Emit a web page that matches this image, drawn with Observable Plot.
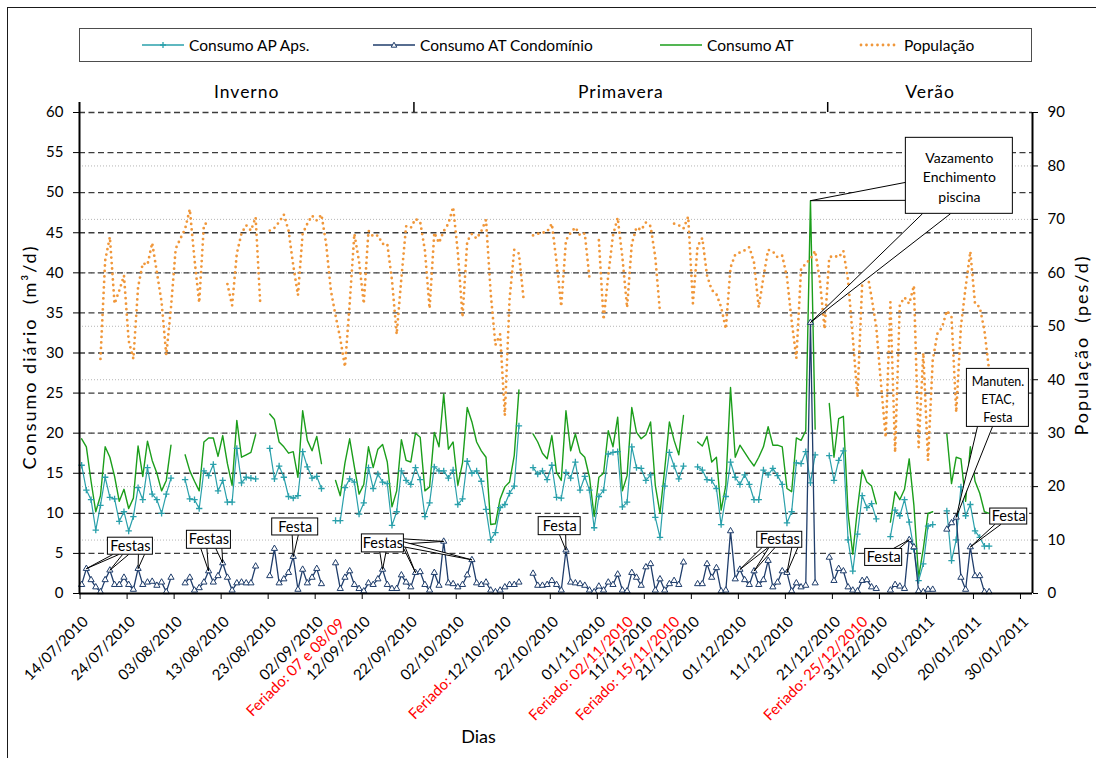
<!DOCTYPE html>
<html>
<head>
<meta charset="utf-8">
<script src="https://cdn.jsdelivr.net/npm/d3@7"></script>
<script src="https://cdn.jsdelivr.net/npm/@observablehq/plot@0.6"></script>
<style>
  body { margin: 0; background: #fff; }
  #wrap { position: relative; width: 1096px; height: 758px; overflow: hidden; font-family: Lato, sans-serif; color: #000; background: #fff; }
  #frame { position: absolute; left: 7px; top: 7px; width: 1200px; height: 900px; border-left: 1px solid #1a1a1a; border-top: 1px solid #1a1a1a; }
  #legend { position: absolute; left: 79px; top: 28px; width: 951px; height: 32px; border: 1px solid #4d4d4d; }
  #legend .item { position: absolute; top: 0; height: 32px; display: flex; align-items: center; font-size: 15.5px; white-space: nowrap; }
  #legend .item svg { margin-right: 5px; }
  #chart { position: absolute; left: 0; top: 64px; }
  g[aria-description="axis-title"] text { letter-spacing: 2px; }
  g[aria-description="season"] text { letter-spacing: 1px; }
</style>
</head>
<body>
<div id="wrap">
  <div id="frame"></div>
  <div id="legend"></div>
  <div id="chart"></div>
</div>
<script>
// Daily readings, one value per day starting 14/07/2010 (null = no reading)
const consumoApAps = [
  16.0,12.9,11.7,7.9,11.0,14.5,12.0,11.8,9.0,10.2,
  7.8,9.6,13.2,11.7,15.7,12.4,11.7,10.0,12.4,14.4,
  null,null,14.2,11.8,11.7,10.6,15.3,14.7,16.1,12.8,
  14.1,11.4,11.4,18.1,13.8,14.5,14.4,14.3,null,null,
  18.1,14.3,15.9,14.5,12.1,11.9,12.2,17.7,15.8,14.4,
  14.6,13.1,null,null,9.1,9.1,13.2,14.3,13.9,9.9,
  11.3,15.7,13.1,14.9,13.9,13.7,8.5,10.2,15.3,14.1,
  13.6,15.7,14.2,9.6,11.3,15.8,15.3,15.3,14.4,15.4,
  11.1,11.8,16.5,15.0,15.3,14.0,10.5,6.7,7.6,10.7,
  11.1,12.5,13.4,20.9,null,null,15.7,14.9,15.3,14.2,
  16.0,12.0,11.9,15.1,14.4,16.4,12.9,14.6,12.9,8.2,
  12.1,12.9,17.4,17.6,17.7,10.8,11.4,18.3,15.7,15.6,
  14.1,14.8,9.5,7.0,13.4,17.6,15.9,14.3,15.9,null,
  null,15.8,15.4,14.2,14.1,13.1,8.6,12.1,16.4,14.5,
  13.6,14.8,13.6,11.7,11.7,15.4,14.8,15.6,14.7,13.6,
  8.8,10.2,16.3,16.2,17.7,13.8,17.3,null,null,17.2,
  14.1,16.6,17.8,6.7,2.8,7.4,12.2,10.7,11.2,9.3,
  null,null,7.1,10.4,9.7,11.7,8.9,5.5,1.6,3.7,
  8.4,8.6,null,null,10.3,4.1,6.7,13.3,9.7,11.1,
  7.8,7.0,5.9,5.9
];

const consumoAtCondominio = [
  1.1,3.1,1.7,0.8,0.2,1.7,2.9,1.1,1.1,2.0,
  1.1,0.5,3.1,1.1,1.4,1.5,1.0,1.4,0.2,2.0,
  null,null,1.3,2.0,0.4,0.7,1.4,2.8,1.4,2.2,
  3.8,2.0,0.4,1.3,1.4,1.3,1.3,3.4,null,null,
  2.2,5.6,1.3,1.8,2.6,4.6,0.5,3.0,1.3,2.0,
  3.1,1.2,null,null,3.8,0.6,2.0,2.8,1.1,0.6,
  0.3,1.3,1.1,1.8,3.0,1.1,0.6,0.6,2.3,1.4,
  0.8,2.6,2.7,1.1,0.4,2.6,1.0,6.5,1.3,1.2,
  0.8,1.1,2.3,4.2,1.3,1.1,1.4,0.4,0.2,0.4,
  0.8,1.1,1.1,1.4,null,null,2.5,1.0,1.0,1.1,
  1.6,1.1,0.4,5.4,1.4,1.3,1.2,1.0,0.4,0.2,
  0.9,0.4,1.4,1.1,2.4,0.4,0.3,2.6,2.0,1.0,
  3.3,3.7,0.4,1.8,0.4,1.2,1.6,1.1,3.9,null,
  null,1.2,1.2,3.7,2.0,3.2,0.3,0.4,7.8,1.8,
  3.0,1.7,1.1,2.8,1.1,1.7,4.1,0.8,1.4,2.8,
  2.6,0.3,1.3,0.8,1.0,33.8,1.3,null,null,4.5,
  1.6,3.1,2.8,0.8,0.4,0.3,1.6,1.7,0.8,0.6,
  null,null,0.4,1.1,0.9,0.6,6.7,5.8,0.3,0.2,
  0.5,0.5,null,null,8.0,8.8,9.5,2.0,0.5,5.8,
  2.2,2.2,0.2,0.2
];

const consumoAt = [
  19.3,18.3,14.0,10.2,12.2,18.3,17.0,14.6,11.5,13.0,
  10.6,11.9,18.4,14.6,19.0,16.6,15.0,12.8,14.1,18.5,
  null,null,17.3,15.3,14.0,12.8,18.9,19.4,19.4,17.1,
  19.7,16.2,13.5,21.6,17.0,17.3,17.6,19.8,null,null,
  22.4,21.7,18.9,18.3,17.5,17.7,14.5,22.8,19.1,17.8,
  19.6,16.2,null,null,14.1,12.2,16.3,19.3,15.8,12.4,
  13.6,18.3,15.7,18.0,18.6,16.4,10.8,12.8,19.2,16.6,
  16.4,20.0,19.5,12.8,13.3,20.1,18.3,24.9,18.0,18.9,
  13.5,16.3,23.2,21.4,18.9,17.8,17.0,8.6,8.7,11.8,
  13.3,13.9,17.2,25.4,null,null,19.9,18.9,17.5,16.8,
  19.7,15.1,14.1,22.8,17.8,19.9,17.6,17.0,14.5,9.6,
  14.5,15.0,20.3,18.3,22.0,12.8,14.7,23.2,20.1,19.3,
  19.8,21.4,13.5,10.0,15.5,21.4,19.1,17.3,22.2,null,
  null,18.9,18.4,19.6,16.4,17.0,10.4,13.5,25.7,17.0,
  18.5,17.6,16.7,15.9,17.0,18.3,20.8,18.5,18.5,18.3,
  13.1,12.7,19.4,19.1,20.3,49.0,20.5,null,null,23.7,
  17.0,21.8,22.1,10.0,4.9,10.6,15.4,13.9,13.4,11.2,
  null,null,8.9,12.7,11.7,13.0,16.8,11.0,2.0,5.6,
  10.0,10.2,null,null,19.9,13.7,17.0,16.8,11.5,18.3,
  14.0,12.5,10.2,10.0
];

const populacao = [
  null,null,null,null,43.9,62.3,66.7,54.2,56.7,59.5,
  47.3,43.9,57.3,61.8,61.5,65.6,60.1,54.5,44.6,53.5,
  64.5,66.4,68.2,71.9,62.5,54.4,69.0,69.5,null,null,
  null,57.9,53.9,63.6,67.4,68.9,67.9,70.4,53.9,null,
  67.9,68.4,69.5,70.9,67.9,61.4,55.8,67.3,69.2,70.7,
  69.8,70.9,65.4,56.7,52.0,47.7,42.4,54.2,67.3,62.1,
  54.2,67.9,66.8,67.0,65.4,65.4,58.6,48.5,59.0,68.7,
  68.4,70.1,69.5,64.2,53.3,67.5,65.6,67.8,69.2,72.3,
  63.9,51.7,65.9,67.3,66.4,67.8,69.9,56.1,46.5,48.5,
  33.3,55.0,64.3,63.6,55.0,null,67.0,67.3,67.5,67.7,
  69.2,62.0,53.7,66.1,67.5,68.5,67.0,67.4,59.0,null,
  66.1,51.2,59.5,67.0,70.3,62.9,53.5,65.4,68.5,68.0,
  69.4,68.7,62.9,52.6,null,null,69.2,68.9,68.3,70.5,
  54.3,65.0,66.5,59.5,56.8,56.0,53.6,49.5,61.0,63.4,
  63.8,64.2,64.8,61.9,53.5,59.2,64.3,64.0,62.9,63.2,
  59.2,51.0,44.0,60.7,61.7,62.6,64.1,58.6,49.5,62.9,
  63.2,62.9,64.1,58.6,48.0,36.7,58.0,60.4,55.4,49.8,
  39.2,29.2,54.5,26.4,54.0,55.4,54.2,57.6,27.3,45.0,
  24.9,43.6,48.6,49.8,52.9,51.7,33.9,50.0,57.3,64.0,
  54.2,53.6,49.2,41.7
];

const tickLabels = [
  "14/07/2010","24/07/2010","03/08/2010","13/08/2010","23/08/2010","02/09/2010","12/09/2010",
  "22/09/2010","02/10/2010","12/10/2010","22/10/2010","01/11/2010","11/11/2010","21/11/2010",
  "01/12/2010","11/12/2010","21/12/2010","31/12/2010","10/01/2011","20/01/2011","30/01/2011"
];
const consumoTicks = [0, 5, 10, 15, 20, 25, 30, 35, 40, 45, 50, 55, 60];
const populacaoTicks = [0, 10, 20, 30, 40, 50, 60, 70, 80, 90];

// Holiday notes under the date axis (day = offset in days from 14/07/2010)
const feriados = [
  {text: "Feriado: 07 e 08/09", day: 54.5, drop: 2},
  {text: "Feriado: 02/11/2010", day: 115.9, drop: 0},
  {text: "Feriado: 15/11/2010", day: 125.8, drop: 0},
  {text: "Feriado: 25/12/2010", day: 165.8, drop: 0}
];
const feriadoPrefix = {text: "Feriado:", tick: "12/10/2010"};

const estacoes = ["Inverno", "Primavera", "Verão"];
const estacaoInicio = ["2010-09-23", "2010-12-20"];

// Callout notes: box centre (day offset, m3/d), size in px
const callouts = [
  {lines: ["Festas"], day: 10.7, value: 5.9, w: 45, h: 17},
  {lines: ["Festas"], day: 27.4, value: 6.7, w: 44, h: 18},
  {lines: ["Festa"], day: 45.75, value: 8.3, w: 46, h: 17},
  {lines: ["Festas"], day: 64.4, value: 6.25, w: 42, h: 18},
  {lines: ["Festa"], day: 102.0, value: 8.4, w: 42, h: 18},
  {lines: ["Festas"], day: 148.8, value: 6.7, w: 45, h: 16},
  {lines: ["Festa"], day: 170.9, value: 4.5, w: 37, h: 17},
  {lines: ["Festa"], day: 197.5, value: 9.6, w: 37, h: 16},
  {lines: ["Manuten.", "ETAC,", "Festa"], day: 195.2, value: 24.4, w: 62, h: 58, small: true},
  {lines: ["Vazamento", "Enchimento", "piscina"], day: 187.0, value: 52.1, w: 107, h: 76, small: true}
];
// Pointers: from a callout edge (offset ox/oy px from its centre) to a reading of a series
const pointers = [
  {box: 0, series: "cond", day: 1, ox: -15, oy: 8.5, half: 3, edge: "h"},
  {box: 0, series: "cond", day: 6, ox: -5, oy: 8.5, half: 3, edge: "h"},
  {box: 0, series: "cond", day: 12, ox: 11, oy: 8.5, half: 3, edge: "h"},
  {box: 1, series: "cond", day: 27, ox: -5, oy: 9, half: 3, edge: "h"},
  {box: 1, series: "cond", day: 30, ox: 10, oy: 9, half: 3, edge: "h"},
  {box: 2, series: "cond", day: 45, ox: 0, oy: 8.5, half: 3, edge: "h"},
  {box: 3, series: "cond", day: 64, ox: 0, oy: 9, half: 3, edge: "h"},
  {box: 3, series: "cond", day: 71, ox: 21, oy: 3, half: 2.5, edge: "v"},
  {box: 3, series: "cond", day: 77, ox: 21, oy: -2, half: 2.5, edge: "v"},
  {box: 3, series: "cond", day: 83, ox: 21, oy: 1, half: 2.5, edge: "v"},
  {box: 4, series: "cond", day: 103, ox: 3, oy: 9, half: 3, edge: "h"},
  {box: 5, series: "cond", day: 140, ox: -15, oy: 8, half: 3, edge: "h"},
  {box: 5, series: "cond", day: 143, ox: -8, oy: 8, half: 3, edge: "h"},
  {box: 5, series: "cond", day: 150, ox: 15, oy: 8, half: 3, edge: "h"},
  {box: 6, series: "cond", day: 176, ox: 12, oy: -8.5, half: 3, edge: "h"},
  {box: 7, series: "cond", day: 189, ox: -11, oy: 8, half: 3, edge: "h"},
  {box: 8, series: "cond", day: 186, ox: -13, oy: 29, half: 7.5, edge: "h"},
  {box: 9, series: "at", day: 155, ox: -53.5, oy: 15.5, half: 9, edge: "v"},
  {box: 9, series: "cond", day: 155, ox: -23, oy: 38, half: 14, edge: "h"}
];

const colors = {ap: "#2aa0ab", cond: "#1f3d6b", at: "#1b9e1b", pop: "#f0973a"};

// ---- legend (HTML, above the chart) ----
const legendItems = [
  {label: "Consumo AP Aps.", key: "ap", marker: "plus", left: 62},
  {label: "Consumo AT Condomínio", key: "cond", marker: "triangle", left: 293},
  {label: "Consumo AT", key: "at", marker: null, left: 580},
  {label: "População", key: "pop", marker: "dots", left: 777}
];
const legendEl = document.getElementById("legend");
for (const it of legendItems) {
  const c = colors[it.key];
  let sym = "";
  if (it.marker === "plus") sym = `<path d="M18 6H24M21 3V9" stroke="${c}" stroke-width="1.3"/>`;
  if (it.marker === "triangle") sym = `<path d="M21 3.2L23.8 8.2H18.2Z" fill="#fff" stroke="${c}" stroke-width="1"/>`;
  const line = it.marker === "dots"
    ? `<line x1="4" y1="6" x2="38" y2="6" stroke="${c}" stroke-width="2.8" stroke-linecap="round" stroke-dasharray="0 5.5"/>`
    : `<line x1="0" y1="6" x2="42" y2="6" stroke="${c}" stroke-width="1.4"/>`;
  const div = document.createElement("div");
  div.className = "item";
  div.style.left = it.left + "px";
  div.innerHTML = `<svg width="42" height="12">${line}${sym}</svg><span>${it.label}</span>`;
  legendEl.append(div);
}

// ---- chart ----
const width = 1096, height = 694;
const margin = {top: 48, right: 64, bottom: 165, left: 79};
const DAY = 864e5;
const t0 = Date.UTC(2010, 6, 14);
const xDomain = [new Date(Date.UTC(2010, 6, 13, 21)), new Date(Date.UTC(2011, 1, 1, 13, 20))];
const pxPerDay = (width - margin.left - margin.right) / ((xDomain[1] - xDomain[0]) / DAY);
const pxPerUnit = (height - margin.top - margin.bottom) / 60;
const popToLeft = 60 / 90;

const atDay = d => new Date(t0 + d * DAY);
const sampleDate = i => atDay(i + 8 / 24);
const toRows = (values, k = 1) => values.map((v, i) => ({date: sampleDate(i), v: v == null ? NaN : v * k}));
const valid = r => Number.isFinite(r.v);

const apRows = toRows(consumoApAps);
const condRows = toRows(consumoAtCondominio);
const atRows = toRows(consumoAt);
const popRows = toRows(populacao, popToLeft);
const seriesByKey = {ap: consumoApAps, cond: consumoAtCondominio, at: consumoAt};

const parseDay = d3.utcParse("%d/%m/%Y");
const tickRows = tickLabels.map(label => ({label, date: parseDay(label)}));

const bounds = [xDomain[0], ...estacaoInicio.map(s => new Date(s + "T00:00Z")), xDomain[1]];
const seasonRows = estacoes.map((name, i) => ({name, mid: new Date((+bounds[i] + +bounds[i + 1]) / 2)}));
const seasonDividers = bounds.slice(1, -1);

// callout geometry in data units
const boxRows = callouts.map(c => ({
  ...c,
  text: c.lines.join("\n"),
  x: atDay(c.day),
  x1: atDay(c.day - c.w / 2 / pxPerDay),
  x2: atDay(c.day + c.w / 2 / pxPerDay),
  y1: c.value - c.h / 2 / pxPerUnit,
  y2: c.value + c.h / 2 / pxPerUnit
}));
const wedgeRows = pointers.flatMap((p, i) => {
  const c = callouts[p.box];
  const bx = c.day + p.ox / pxPerDay;
  const by = c.value - p.oy / pxPerUnit;
  const dd = p.edge === "h" ? p.half / pxPerDay : 0;
  const dv = p.edge === "v" ? p.half / pxPerUnit : 0;
  return [
    {id: i, date: atDay(bx - dd), v: by - dv},
    {id: i, date: sampleDate(p.day), v: seriesByKey[p.series][p.day]},
    {id: i, date: atDay(bx + dd), v: by + dv}
  ];
});

// width of a tick label, to place the "Feriado:" prefix right before it
const ctx = document.createElement("canvas").getContext("2d");
ctx.font = "15px Lato";
const prefixShift = (ctx.measureText(feriadoPrefix.tick).width + 2) * Math.SQRT1_2;

const labelDx = 9, labelDy = 29;

const plot = Plot.plot({
  width, height,
  marginTop: margin.top, marginRight: margin.right, marginBottom: margin.bottom, marginLeft: margin.left,
  x: {type: "utc", domain: xDomain, axis: null},
  y: {domain: [0, 60]},
  style: {fontFamily: "Lato, sans-serif", fontSize: "15px", color: "#000", background: "transparent", overflow: "visible"},
  marks: [
    // grid: dotted for the population axis, dashed for the consumption axis
    Plot.ruleY(populacaoTicks.filter(p => p > 0 && p < 90).map(p => p * popToLeft), {stroke: "#b5b5b5", strokeWidth: 1, strokeDasharray: "1 2"}),
    Plot.ruleY(consumoTicks.filter(v => v > 0), {stroke: "#3c3c3c", strokeWidth: 1.3, strokeDasharray: "6 3.5"}),

    // series
    Plot.line(atRows, {x: "date", y: "v", stroke: colors.at, strokeWidth: 1.4}),
    Plot.line(apRows, {x: "date", y: "v", stroke: colors.ap, strokeWidth: 1.2}),
    Plot.dot(apRows.filter(valid), {x: "date", y: "v", symbol: "plus", r: 2.2, stroke: colors.ap, strokeWidth: 1.3}),
    Plot.line(condRows, {x: "date", y: "v", stroke: colors.cond, strokeWidth: 1.3}),
    Plot.dot(condRows.filter(valid), {x: "date", y: "v", symbol: "triangle", r: 2.3, fill: "white", stroke: colors.cond, strokeWidth: 1}),
    Plot.line(popRows, {x: "date", y: "v", stroke: colors.pop, strokeWidth: 2.8, strokeDasharray: "0 5.5", strokeLinecap: "round"}),

    // axes
    Plot.axisY({anchor: "left", ticks: consumoTicks, tickSize: 6, tickPadding: 10, fontSize: 15, label: null}),
    Plot.axisY({anchor: "right", ticks: populacaoTicks.map(p => p * popToLeft), tickFormat: v => String(Math.round(v / popToLeft)), tickSize: 5, tickPadding: 10, fontSize: 15, label: null}),
    Plot.ruleX([xDomain[0]], {y1: 0, y2: 61.25, strokeWidth: 2}),
    Plot.ruleX([xDomain[1]], {strokeWidth: 2}),
    Plot.ruleY([0], {strokeWidth: 2}),
    Plot.ruleX(tickRows, {x: "date", y1: 0, y2: -6 / pxPerUnit, strokeWidth: 1}),
    Plot.text(tickRows, {x: "date", text: "label", frameAnchor: "bottom", rotate: -45, textAnchor: "end", dx: labelDx, dy: labelDy, fontSize: 15}),
    ...feriados.map(f => Plot.text([f], {x: d => atDay(d.day), text: "text", frameAnchor: "bottom", rotate: -45, textAnchor: "end", dx: labelDx, dy: labelDy + f.drop, fontSize: 15, fill: "#ff0000"})),
    Plot.text([feriadoPrefix], {x: d => parseDay(d.tick), text: "text", frameAnchor: "bottom", rotate: -45, textAnchor: "end", dx: labelDx - prefixShift, dy: labelDy + prefixShift, fontSize: 15, fill: "#ff0000"}),

    // seasons above the plot
    Plot.ruleX(seasonDividers, {y1: 60, y2: 61.25, strokeWidth: 1.5}),
    Plot.text(seasonRows, {x: "mid", y: 62.5, text: "name", fontSize: 17.5, ariaDescription: "season"}),

    // axis titles
    Plot.text(["Consumo diário\u00a0 (m³/d)"], {text: d => d, frameAnchor: "left", textAnchor: "middle", dx: -49, dy: 4, rotate: -90, fontSize: 18, ariaDescription: "axis-title"}),
    Plot.text(["População\u00a0 (pes/d)"], {text: d => d, frameAnchor: "right", textAnchor: "middle", dx: 50, dy: -8, rotate: -90, fontSize: 18, ariaDescription: "axis-title"}),
    Plot.text(["Dias"], {text: d => d, frameAnchor: "bottom", textAnchor: "middle", dx: -77.5, dy: 149, fontSize: 18}),

    // callouts
    Plot.line(wedgeRows, {x: "date", y: "v", z: "id", fill: "white", stroke: "black", strokeWidth: 1}),
    Plot.rect(boxRows, {x1: "x1", x2: "x2", y1: "y1", y2: "y2", fill: "white", stroke: "black", strokeWidth: 1}),
    Plot.text(boxRows.filter(d => !d.small), {x: "x", y: "value", text: "text", fontSize: 14.5}),
    Plot.text(boxRows.filter(d => d.small && d.lines[0] === "Vazamento"), {x: "x", y: "value", text: "text", fontSize: 14, lineHeight: 1.4}),
    Plot.text(boxRows.filter(d => d.small && d.lines[0] !== "Vazamento"), {x: "x", y: "value", text: "text", fontSize: 12.5, lineHeight: 1.45})
  ]
});

document.getElementById("chart").append(plot);
</script>
</body>
</html>
